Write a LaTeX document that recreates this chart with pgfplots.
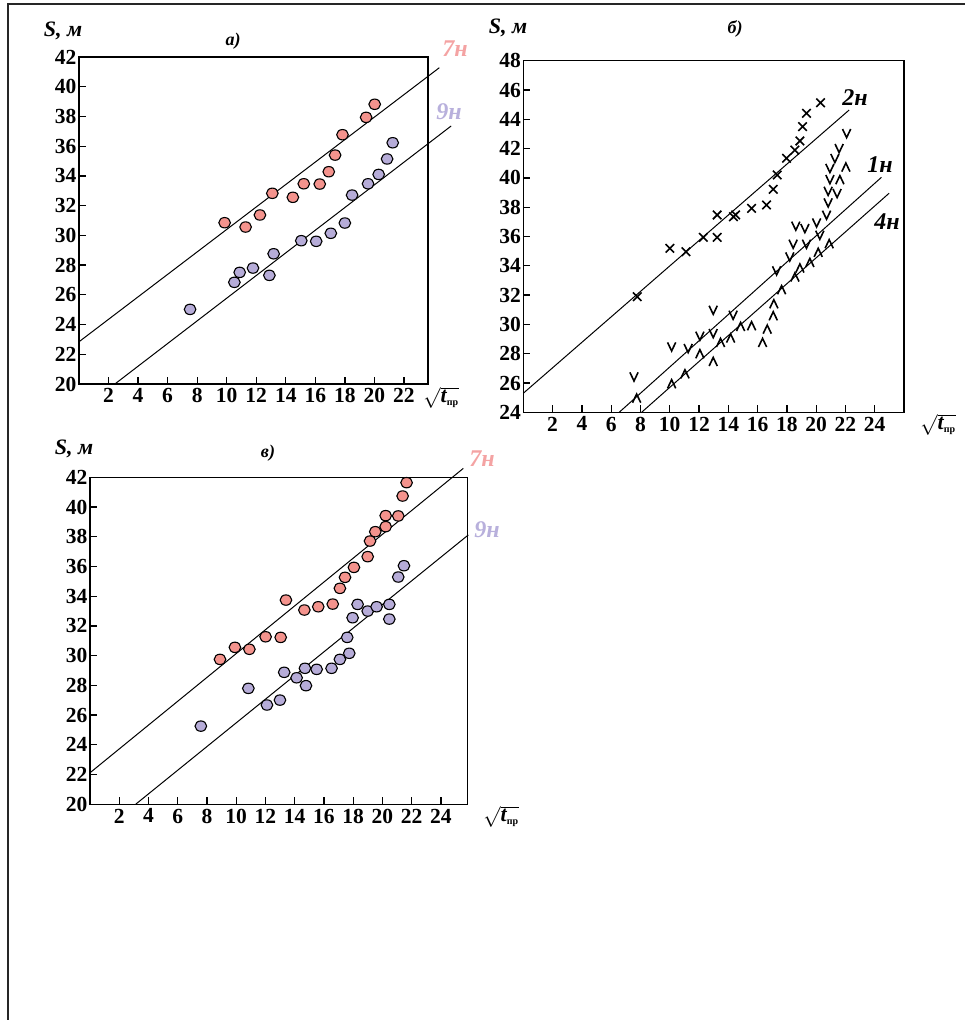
\documentclass[border=0pt]{standalone}
\usepackage{pgfplots}
\pgfplotsset{compat=1.18}
\usepackage{fontspec}
\setmainfont{Liberation Serif}
\definecolor{rd}{HTML}{F4938D}
\definecolor{bl}{HTML}{B6ACD8}
\definecolor{rdl}{HTML}{F4A3A3}
\definecolor{bll}{HTML}{B8B0DC}

\pgfdeclareplotmark{vv}{%
  \pgfpathmoveto{\pgfpoint{-0.95\pgfplotmarksize}{\pgfplotmarksize}}%
  \pgfpathlineto{\pgfpoint{0pt}{-\pgfplotmarksize}}%
  \pgfpathlineto{\pgfpoint{0.95\pgfplotmarksize}{\pgfplotmarksize}}%
  \pgfusepathqstroke}
\pgfdeclareplotmark{aa}{%
  \pgfpathmoveto{\pgfpoint{-0.95\pgfplotmarksize}{-\pgfplotmarksize}}%
  \pgfpathlineto{\pgfpoint{0pt}{\pgfplotmarksize}}%
  \pgfpathlineto{\pgfpoint{0.95\pgfplotmarksize}{-\pgfplotmarksize}}%
  \pgfusepathqstroke}

\pgfplotsset{panel/.style={
  scale only axis, clip=false,
  axis line style={line width=1.3pt},
  every tick/.style={black,line width=1.3pt},
  major tick length=7pt, tick align=inside, tick pos=left,
  /pgf/number format/assume math mode=true,
  ticklabel style={font=\fontsize{21.5}{21.5}\bfseries\selectfont},
  yticklabel style={xshift=1pt},
  xticklabel style={yshift=-1pt},
  anchor=south west},
  fitline/.style={black,line width=1pt,no marks},
  rdpts/.style={only marks,mark=*,mark size=5.2pt,mark options={fill=rd,draw=black,line width=1.1pt,xscale=1.12}},
  blpts/.style={only marks,mark=*,mark size=5.2pt,mark options={fill=bl,draw=black,line width=1.1pt,xscale=1.12}}
}

\begin{document}
\begin{tikzpicture}
\useasboundingbox (0pt,0pt) rectangle (965pt,1020pt);
% frame
\draw[line width=1.3pt,black!85] (8pt,0pt) -- (8pt,1016pt) -- (965pt,1016pt);

% ---------- panel a ----------
\begin{axis}[panel, at={(79pt,636pt)}, width=349pt, height=327pt,
  xmin=0, xmax=23.63, ymin=20, ymax=42,
  xtick={2,4,...,22}, ytick={20,22,...,42}]
\addplot[fitline] coordinates {(0,22.84) (24.4,41.28)};
\addplot[fitline] coordinates {(2.43,20) (25.2,37.36)};
\addplot[rdpts] table {
9.86 30.85
11.28 30.56
12.25 31.37
13.09 32.83
14.48 32.56
15.22 33.47
16.30 33.45
16.91 34.28
17.34 35.40
17.84 36.77
19.44 37.94
20.02 38.82
};
\addplot[blpts] table {
7.52 25.02
10.52 26.84
10.88 27.51
11.78 27.80
12.89 27.31
13.18 28.76
15.05 29.64
16.06 29.60
17.05 30.14
18.00 30.83
18.49 32.71
19.57 33.47
20.29 34.10
20.86 35.14
21.24 36.23
};
\end{axis}

% ---------- panel b ----------
\begin{axis}[panel, at={(523.3pt,607.7pt)}, width=380.7pt, height=351.6pt,
  xmin=0, xmax=26, ymin=24, ymax=48,
  xtick={2,4,...,24}, ytick={24,26,...,48}]
\addplot[fitline] coordinates {(0,25.3) (22.25,44.63)};
\addplot[fitline] coordinates {(6.55,24) (24.46,40.04)};
\addplot[fitline] coordinates {(8.08,24) (24.98,38.95)};
\addplot[only marks,mark=x,mark size=6pt,mark options={black,line width=1.6pt}] table {
7.78 31.89
10.01 35.19
11.11 34.96
12.29 35.94
13.24 35.94
13.24 37.47
14.35 37.35
14.50 37.47
15.59 37.92
16.61 38.15
17.07 39.22
17.34 40.20
17.98 41.34
18.55 41.90
18.89 42.52
19.07 43.50
19.34 44.41
20.30 45.13
};
\addplot[only marks,mark=vv,mark size=4.3pt,mark options={black,line width=1.6pt}] table {
7.56 26.43
10.13 28.48
11.26 28.37
12.06 29.21
12.97 29.39
12.97 30.98
14.33 30.64
17.30 33.67
18.20 34.62
18.43 35.49
19.34 35.49
18.61 36.72
19.23 36.56
20.03 36.94
20.25 36.10
20.71 37.47
20.82 38.31
20.82 39.10
21.43 38.95
20.94 39.90
20.94 40.66
21.28 41.34
21.57 42.02
22.08 43.04
};
\addplot[only marks,mark=aa,mark size=4.3pt,mark options={black,line width=1.6pt}] table {
7.74 24.95
10.13 25.93
11.04 26.61
12.06 27.98
12.97 27.45
13.47 28.75
14.16 29.05
14.84 29.84
15.59 29.89
16.34 28.75
16.66 29.66
17.07 30.57
17.11 31.39
17.64 32.35
18.55 33.22
18.89 33.83
19.57 34.21
20.14 34.90
20.89 35.49
21.62 39.86
22.03 40.72
};
\end{axis}

% ---------- panel c ----------
\begin{axis}[panel, at={(90pt,215.7pt)}, width=377.7pt, height=327pt,
  xmin=0, xmax=25.83, ymin=20, ymax=42,
  xtick={2,4,...,24}, ytick={20,22,...,42}]
\addplot[fitline] coordinates {(0,22.12) (25.53,42.6)};
\addplot[fitline] coordinates {(3.12,20) (25.87,38.12)};
\addplot[rdpts] table {
8.89 29.75
9.91 30.56
10.90 30.43
12.01 31.27
13.04 31.23
13.40 33.74
14.66 33.07
15.61 33.29
16.60 33.47
17.09 34.53
17.44 35.27
18.05 35.94
18.99 36.66
19.15 37.71
19.51 38.34
20.22 38.68
20.22 39.42
21.08 39.40
21.38 40.74
21.65 41.64
};
\addplot[blpts] table {
7.58 25.26
10.83 27.80
12.10 26.68
12.99 27.01
13.28 28.88
14.13 28.51
14.70 29.15
14.77 27.98
15.50 29.08
16.52 29.15
17.09 29.75
17.73 30.16
17.59 31.23
17.96 32.55
18.30 33.45
18.99 33.00
19.60 33.29
20.47 33.45
20.47 32.46
21.08 35.29
21.47 36.05
};
\end{axis}

% ---------- labels ----------
\tikzset{lbl/.style={font=\fontsize{22}{22}\bfseries\itshape\selectfont,inner sep=0pt},
         ttl/.style={font=\fontsize{18}{18}\bfseries\itshape\selectfont,inner sep=0pt},
         cur/.style={font=\fontsize{24}{24}\bfseries\itshape\selectfont,inner sep=0pt}}
\newcommand{\sq}{\fontsize{22}{22}\selectfont$\sqrt{\mbox{\bfseries\itshape t}_{\mbox{\fontsize{10}{10}\bfseries\selectfont пр}}}$}
% a
\node[lbl] at (63pt,989pt) {S, м};
\node[ttl] at (233pt,979pt) {а)};
\node[cur,text=rdl] at (455pt,971pt) {7н};
\node[cur,text=bll] at (449pt,908pt) {9н};
\node[inner sep=0pt] at (441pt,622pt) {\sq};
% b
\node[lbl] at (508pt,992pt) {S, м};
\node[ttl] at (735pt,991pt) {б)};
\node[cur] at (855pt,922pt) {2н};
\node[cur] at (880pt,855pt) {1н};
\node[cur] at (887pt,798pt) {4н};
\node[inner sep=0pt] at (938pt,595pt) {\sq};
% c
\node[lbl] at (74pt,571pt) {S, м};
\node[ttl] at (268pt,567pt) {в)};
\node[cur,text=rdl] at (482pt,561pt) {7н};
\node[cur,text=bll] at (487pt,490pt) {9н};
\node[inner sep=0pt] at (501pt,203pt) {\sq};
\end{tikzpicture}
\end{document}
